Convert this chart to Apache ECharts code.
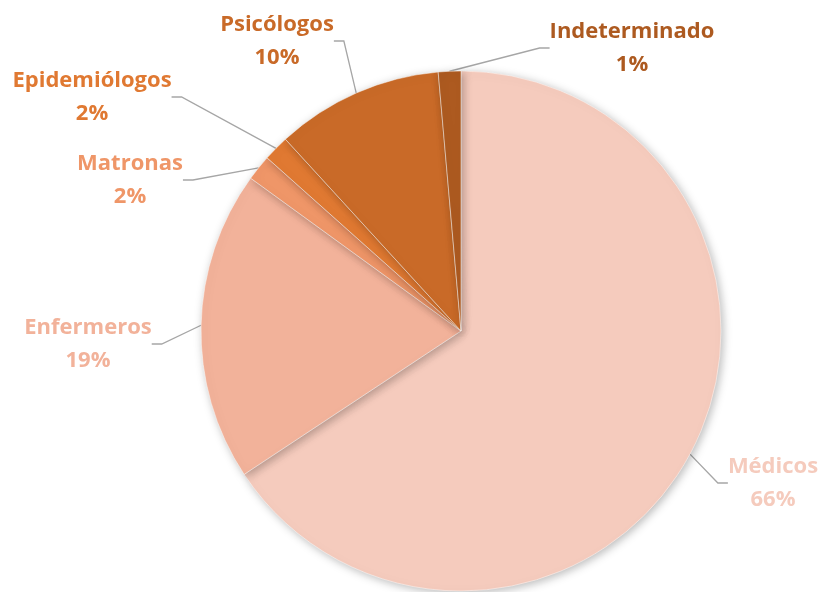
<!DOCTYPE html>
<html>
<head>
<meta charset="utf-8">
<style>html,body{margin:0;padding:0;background:#fff}#c{width:822px;height:592px}</style>
<script src="https://cdn.jsdelivr.net/npm/echarts@6/dist/echarts.min.js"></script>
</head>
<body>
<div id="c"></div>
<script>
const categories = ['Médicos', 'Enfermeros', 'Matronas', 'Epidemiólogos', 'Psicólogos', 'Indeterminado'];
const values = [65.7, 19.3, 1.6, 1.6, 10.4, 1.4];
const colors = ['#F5CBBD', '#F2B29A', '#EF9668', '#E07932', '#C96A28', '#AD5A20'];
// label box centres (layout only)
const labelPos = [[773, 483], [88, 344], [130, 180], [92, 97], [277, 41], [632, 48]];

const chart = echarts.init(document.getElementById('c'));
chart.setOption({
  animation: false,
  series: [{
    type: 'pie',
    center: [461, 331],
    radius: 260,
    startAngle: 90,
    clockwise: true,
    data: categories.map((n, i) => ({
      name: n, value: values[i],
      itemStyle: { color: colors[i] },
      label: { color: colors[i] }
    })),
    itemStyle: {
      borderColor: 'rgba(255,255,255,0.45)', borderWidth: 1,
      shadowBlur: 10, shadowColor: 'rgba(0,0,0,0.28)', shadowOffsetX: 2, shadowOffsetY: 2
    },
    label: {
      show: true,
      position: 'outside',
      formatter: p => p.name + '\n' + Math.round(p.percent) + '%',
      fontFamily: 'Open Sans',
      fontWeight: 'bold',
      fontSize: 22,
      lineHeight: 33,
      align: 'center'
    },
    labelLine: {
      show: true, length: 15, length2: 10,
      lineStyle: { color: '#A6A6A6', width: 1.3 }
    },
    labelLayout: p => ({
      x: labelPos[p.dataIndex][0],
      y: labelPos[p.dataIndex][1],
      align: 'center',
      verticalAlign: 'middle'
    })
  }]
});
</script>
</body>
</html>
